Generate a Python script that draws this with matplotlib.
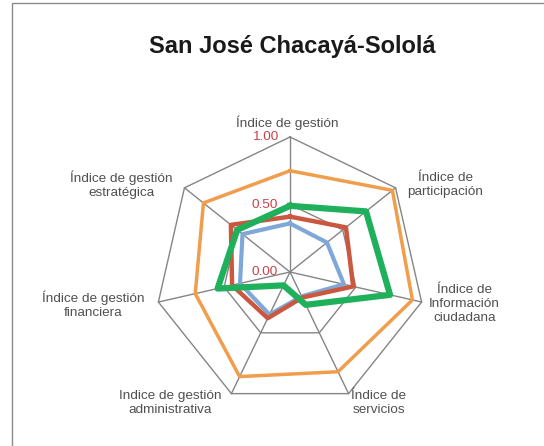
import numpy as np
import matplotlib
matplotlib.use("Agg")
import matplotlib.pyplot as plt
from matplotlib.patches import Rectangle
from matplotlib.transforms import offset_copy

plt.rcParams["font.family"] = ["Liberation Sans", "DejaVu Sans"]

title = "San José Chacayá-Sololá"
categories = [
  "Índice de gestión",
  "Índice de\nparticipación",
  "Índice de\nInformación\nciudadana",
  "Índice de\nservicios",
  "Indice de gestión\nadministrativa",
  "Índice de gestión\nfinanciera",
  "Índice de gestión\nestratégica",
]
serie_naranja = [0.75, 0.97, 0.93, 0.82, 0.86, 0.72, 0.82]
serie_azul = [0.36, 0.35, 0.41, 0.20, 0.35, 0.38, 0.45]
serie_roja = [0.41, 0.53, 0.48, 0.21, 0.38, 0.44, 0.56]
serie_verde = [0.49, 0.72, 0.76, 0.27, 0.11, 0.55, 0.50]
rings = [0.5, 1.0]
tick_values = [0.0, 0.5, 1.0]
tick_labels = ["0.00", "0.50", "1.00"]

# label offsets from each outer vertex, in pixels (x right, y up)
label_offsets = [(-3, 14), (50, 3), (43, -2), (30, -9), (-61, -9), (-65, -3), (-63, 3)]

n = len(categories)
angles = np.arange(n) * 2 * np.pi / n
closed = np.append(angles, angles[0])


def close(values):
  return list(values) + [values[0]]


fig = plt.figure(figsize=(5.44, 4.46), dpi=100)
ax = fig.add_axes([155 / 544, 39 / 446, 270 / 544, 270 / 446], projection="polar")
ax.set_theta_zero_location("N")
ax.set_theta_direction(-1)
ax.set_ylim(0, 1)
ax.set_axis_off()

grid_color = "#858585"
for r in rings:
  ax.plot(closed, [r] * (n + 1), color=grid_color, lw=1.0, clip_on=False, zorder=1)
for a in angles:
  ax.plot([a, a], [0, 1], color=grid_color, lw=1.0, clip_on=False, zorder=1)

ax.plot(closed, close(serie_naranja), color="#f09d4c", lw=2.5, clip_on=False, zorder=3)
ax.plot(closed, close(serie_azul), color="#7fa7d8", lw=3.0, clip_on=False, zorder=3)
ax.plot(closed, close(serie_roja), color="#cb573f", lw=3.2, clip_on=False, zorder=4)
ax.plot(closed, close(serie_verde), color="#1eb05a", lw=4.5, clip_on=False, zorder=5)

tick_trans = offset_copy(ax.transData, fig=fig, x=-12, y=0, units="dots")
for v, lab in zip(tick_values, tick_labels):
  ax.text(0, v, lab, transform=tick_trans, ha="right", va="center",
          fontsize=9.7, color="#c9404a", zorder=6)

for a, lab, (dx, dy) in zip(angles, categories, label_offsets):
  ax.annotate(lab, xy=(a, 1.0), xytext=(dx, dy), textcoords="offset pixels",
              ha="center", va="center", fontsize=9.7, color="#505050",
              linespacing=1.2, annotation_clip=False)

fig.text(292 / 544, 1 - 47 / 446, title, ha="center", va="center",
         fontsize=17, fontweight="bold", color="#1a1a1a")

fig.add_artist(Rectangle((12 / 544, -0.05), 1.0, 1 - 3 / 446 + 0.05,
                         transform=fig.transFigure, fill=False,
                         ec="#8c8c8c", lw=1.0))

fig.savefig("out.png", dpi=100)
